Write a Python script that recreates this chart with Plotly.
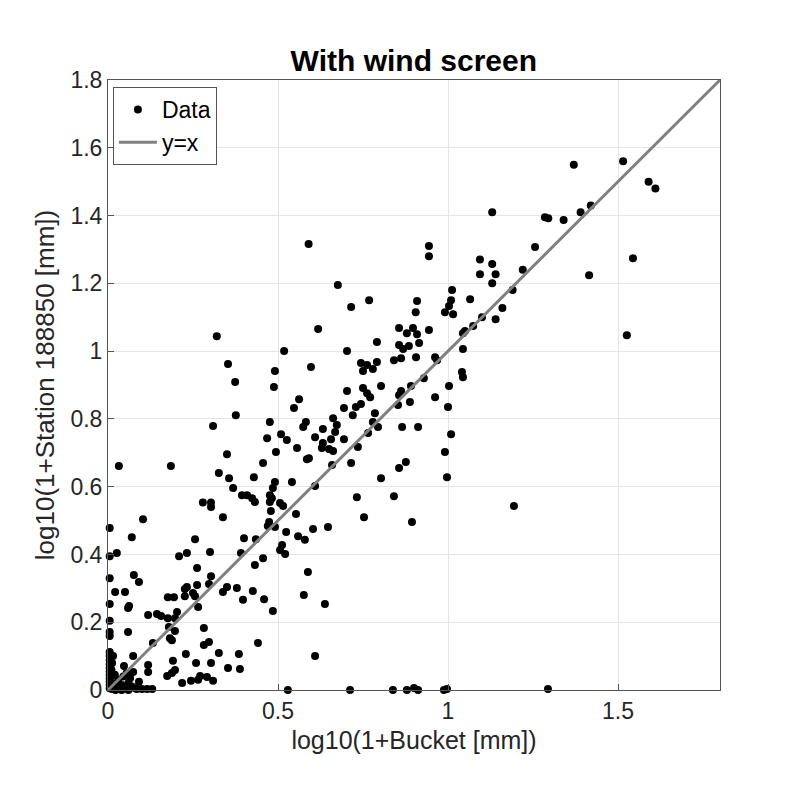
import plotly.graph_objects as go

# Data (log10(1+Bucket), log10(1+Station))
bucket = [
    1.515, 1.37, 1.59, 1.61, 1.13, 1.285, 1.295, 1.34, 1.39, 1.42,
    1.256, 1.544, 1.22, 1.415, 1.13, 1.14, 1.13, 1.094, 1.094, 1.19,
    1.16, 1.14, 1.10, 1.526,
    0.59, 0.944, 0.944, 0.676, 0.715, 0.768, 0.909, 0.905, 1.012, 1.009,
    1.003, 0.991, 1.015, 1.065,
    0.618, 0.856, 0.879, 0.897, 0.909, 0.944, 1.044, 1.05, 1.074, 0.791,
    0.856, 0.868, 0.885, 0.915, 0.703, 0.906, 0.841, 0.862, 0.962, 0.968,
    1.044, 0.744, 0.762, 0.791, 0.779, 0.75, 0.597, 1.041, 1.044, 0.929,
    1.003, 0.703, 0.75, 0.762, 0.771, 0.803, 0.862, 0.856, 0.891, 0.962,
    0.562, 0.547, 0.694, 0.744, 0.729, 0.853, 0.888, 1.0, 0.72, 0.785,
    0.662, 0.673, 0.668, 0.582, 0.574, 0.779, 0.794, 0.632, 0.865, 0.912,
    0.609, 0.656, 0.694, 0.765, 1.009, 0.556, 0.632, 0.629, 0.65, 0.662,
    0.735, 0.585, 0.591, 0.991, 0.715, 0.659, 0.876, 0.856, 0.541, 0.609,
    0.803, 0.997, 0.732, 0.841,
    0.32, 0.518, 0.353, 0.491, 0.374, 0.488, 0.376, 0.476, 0.309, 0.468,
    0.509, 0.526, 0.35, 0.494, 0.032, 0.185, 0.456, 0.326, 0.429, 0.356,
    0.491, 0.368, 0.485, 0.394, 0.409, 0.424, 0.476, 0.482, 0.279, 0.303,
    0.303, 0.432, 0.476, 0.506, 0.515, 0.103, 0.338, 0.479, 0.005, 0.474,
    0.47, 0.491, 0.524, 0.07, 0.256, 0.4, 0.435, 0.512, 0.506, 0.521,
    0.005, 0.026, 0.209, 0.232, 0.3, 0.391, 0.456, 0.432, 0.262, 0.303,
    0.005, 0.076, 0.091, 0.262, 0.232, 0.226, 0.297, 0.35, 0.379, 0.426,
    0.021, 0.05, 0.226, 0.25, 0.256, 0.338, 0.176, 0.194, 0.397, 0.459,
    0.005, 0.062, 0.059, 0.265, 0.485, 0.118, 0.144, 0.156, 0.176, 0.197,
    0.203, 0.005, 0.179, 0.282, 0.197, 0.005, 0.005, 0.059, 0.182, 0.188,
    0.132, 0.297, 0.282, 0.441, 0.326, 0.229, 0.385, 0.074, 0.191, 0.259,
    0.303, 0.047, 0.118, 0.118, 0.353, 0.388, 0.197, 0.188, 0.174, 0.074,
    0.271, 0.265, 0.291, 0.309, 0.244, 0.218, 0.091, 0.529,
    0.553, 0.559, 0.579, 0.603, 0.647, 0.753, 0.894, 0.588, 0.576, 0.638,
    0.609, 0.712, 0.838, 0.879, 0.9, 0.912, 0.988, 0.997, 1.194, 1.294,
    0.005, 0.005, 0.005, 0.005, 0.005, 0.005, 0.005, 0.005, 0.005, 0.005,
    0.005, 0.015, 0.025, 0.03, 0.04, 0.05, 0.045, 0.06, 0.065, 0.07,
    0.02, 0.035, 0.055, 0.08, 0.01, 0.012, 0.015, 0.085, 0.1, 0.115,
    0.13, 0.012, 0.022, 0.04, 0.06,
]
station = [
    1.56, 1.55, 1.50, 1.48, 1.41, 1.395, 1.392, 1.387, 1.41, 1.43,
    1.307, 1.274, 1.24, 1.224, 1.257, 1.227, 1.20, 1.27, 1.227, 1.18,
    1.127, 1.094, 1.10, 1.047,
    1.316, 1.31, 1.28, 1.195, 1.13, 1.15, 1.148, 1.115, 1.18, 1.15,
    1.133, 1.115, 1.109, 1.153,
    1.065, 1.068, 1.053, 1.068, 1.05, 1.062, 1.053, 1.059, 1.074, 1.027,
    1.018, 1.006, 1.015, 1.024, 1.0, 0.982, 0.973, 0.979, 0.982, 0.973,
    1.006, 0.965, 0.959, 0.968, 0.947, 0.941, 0.953, 0.938, 0.923, 0.92,
    0.897, 0.882, 0.891, 0.876, 0.864, 0.897, 0.882, 0.870, 0.897, 0.864,
    0.858, 0.832, 0.832, 0.844, 0.835, 0.841, 0.85, 0.835, 0.811, 0.817,
    0.802, 0.782, 0.761, 0.791, 0.776, 0.791, 0.776, 0.77, 0.776, 0.776,
    0.746, 0.74, 0.74, 0.758, 0.755, 0.714, 0.729, 0.714, 0.711, 0.705,
    0.717, 0.681, 0.684, 0.702, 0.67, 0.664, 0.673, 0.655, 0.614, 0.602,
    0.625, 0.628, 0.569, 0.572,
    1.044, 1.0, 0.962, 0.941, 0.909, 0.894, 0.811, 0.791, 0.779, 0.743,
    0.755, 0.738, 0.696, 0.702, 0.661, 0.661, 0.67, 0.64, 0.628, 0.625,
    0.614, 0.596, 0.596, 0.575, 0.575, 0.566, 0.575, 0.566, 0.553, 0.553,
    0.54, 0.555, 0.555, 0.552, 0.543, 0.504, 0.51, 0.528, 0.478, 0.496,
    0.484, 0.481, 0.466, 0.451, 0.445, 0.448, 0.445, 0.428, 0.413, 0.401,
    0.395, 0.404, 0.395, 0.404, 0.407, 0.404, 0.389, 0.369, 0.36, 0.336,
    0.33, 0.339, 0.319, 0.31, 0.304, 0.298, 0.313, 0.304, 0.301, 0.292,
    0.289, 0.289, 0.277, 0.286, 0.277, 0.289, 0.274, 0.274, 0.266, 0.268,
    0.254, 0.248, 0.242, 0.245, 0.233, 0.221, 0.224, 0.218, 0.212, 0.212,
    0.23, 0.204, 0.186, 0.183, 0.174, 0.171, 0.159, 0.171, 0.153, 0.147,
    0.139, 0.142, 0.133, 0.139, 0.109, 0.106, 0.106, 0.1, 0.086, 0.08,
    0.08, 0.071, 0.074, 0.053, 0.065, 0.062, 0.059, 0.05, 0.041, 0.053,
    0.041, 0.03, 0.038, 0.027, 0.027, 0.021, 0.024, 0.0,
    0.519, 0.454, 0.443, 0.475, 0.481, 0.51, 0.496, 0.348, 0.28, 0.254,
    0.1, 0.0, 0.0, 0.0, 0.006, 0.0, 0.0, 0.003, 0.543, 0.003,
    0.112, 0.1, 0.088, 0.076, 0.065, 0.055, 0.045, 0.035, 0.025, 0.015,
    0.005, 0.02, 0.01, 0.03, 0.015, 0.005, 0.04, 0.02, 0.035, 0.01,
    0.045, 0.005, 0.05, 0.005, 0.06, 0.08, 0.1, 0.003, 0.003, 0.003,
    0.003, 0.003, 0.0, 0.0, 0.0,
]
ref_line = [0, 1.8]

x_ticks = [0, 0.5, 1, 1.5]
x_tick_text = ["0", "0.5", "1", "1.5"]
y_ticks = [0, 0.2, 0.4, 0.6, 0.8, 1.0, 1.2, 1.4, 1.6, 1.8]
y_tick_text = ["0", "0.2", "0.4", "0.6", "0.8", "1", "1.2", "1.4", "1.6", "1.8"]

FONT = "Liberation Sans, Arial, Helvetica, sans-serif"

fig = go.Figure()
fig.add_trace(go.Scatter(
    x=bucket, y=station, mode="markers", name="Data",
    marker=dict(color="black", size=8, line=dict(width=0)),
    cliponaxis=False,
))
fig.add_trace(go.Scatter(
    x=ref_line, y=ref_line, mode="lines", name="y=x",
    line=dict(color="#808080", width=3),
))

axis_common = dict(
    showgrid=True, gridcolor="#e5e5e5", gridwidth=1,
    zeroline=False, showline=True, linecolor="#555555", linewidth=1,
    mirror=True, ticks="inside", ticklen=6, tickcolor="#555555",
    tickfont=dict(family=FONT, size=23, color="#262626"),
)

fig.update_layout(
    width=788, height=789,
    paper_bgcolor="white", plot_bgcolor="white",
    margin=dict(l=100, r=76, t=72, b=107),
    title=dict(text="<b>With wind screen</b>", x=0.515, xanchor="center",
               y=0.934, yanchor="middle",
               font=dict(family=FONT, size=30, color="black")),
    xaxis=dict(range=[0, 1.8], tickvals=x_ticks, ticktext=x_tick_text,
               title=dict(text="log10(1+Bucket [mm])", standoff=8,
                          font=dict(family=FONT, size=25, color="#262626")),
               **axis_common),
    yaxis=dict(range=[0, 1.8], tickvals=y_ticks, ticktext=y_tick_text,
               title=dict(text="log10(1+Station 188850 [mm])", standoff=8,
                          font=dict(family=FONT, size=26, color="#262626")),
               **axis_common),
    legend=dict(x=0.008, y=0.9885, xanchor="left", yanchor="top",
                bgcolor="white", bordercolor="#555555", borderwidth=1,
                font=dict(family=FONT, size=23, color="black"),
                itemwidth=38, tracegroupgap=0),
    showlegend=True,
)

fig.write_html("out.html")
